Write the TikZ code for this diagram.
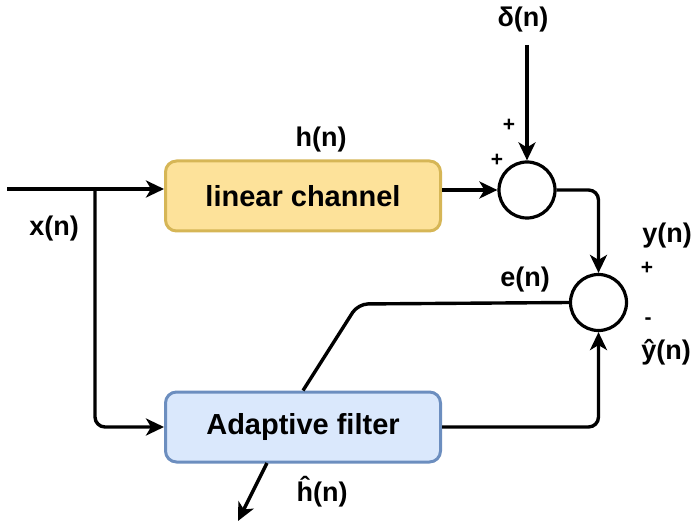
\documentclass[tikz,border=0pt]{standalone}
\usepackage{fontspec}
\setmainfont{Liberation Sans}
\usetikzlibrary{arrows.meta}
\definecolor{yfill}{HTML}{FDE29A}
\definecolor{ydraw}{HTML}{D6B656}
\definecolor{bfill}{HTML}{DAE8FC}
\definecolor{bdraw}{HTML}{6C8EBF}
\begin{document}
\begin{tikzpicture}[x=1pt,y=-1pt,
  wire/.style={line width=3.4pt, rounded corners=10pt},
  arr/.style={wire,-{Stealth[length=18pt,width=17pt,inset=5pt]}},
  box/.style={rounded corners=11pt, line width=3pt, minimum width=275pt, minimum height=70pt, font=\fontsize{29}{34}\selectfont\bfseries},
  sumc/.style={circle, draw, line width=3.2pt, minimum size=56pt, inner sep=0pt},
  lbl/.style={font=\fontsize{27}{32}\selectfont\bfseries, inner sep=0pt},
  sgn/.style={font=\fontsize{21}{24}\selectfont\bfseries, inner sep=0pt}]
\useasboundingbox (0,0) rectangle (693,521);
\node[box, fill=yfill, draw=ydraw] (lc) at (303,196) {linear channel};
\node[box, fill=bfill, draw=bdraw] (af) at (303,427) {Adaptive filter};
\node[sumc] (s1) at (527,190) {};
\node[sumc] (s2) at (598.5,302.5) {};
\coordinate (in) at (7,189);
\coordinate (br) at (95,189);
\coordinate (d) at (527,45);
\coordinate (ek) at (358,304);
\coordinate (hs) at (267,463);
\coordinate (he) at (238,521);
\draw[arr] (in) -- (lc.west |- in);
\draw[arr] (br) |- (af.west);
\draw[arr] (lc.east |- s1) -- (s1.west);
\draw[arr] (d) -- (s1.north);
\draw[arr] (s1.east) -| (s2.north);
\draw[arr] (af.east) -| (s2.south);
\draw[wire] (s2.west) -- (ek) -- (af.north);
\draw[arr] (hs) -- (he);
\node[lbl] (xn) at (54,229) {x(n)};
\node[lbl] (hn) at (321,140) {h(n)};
\node[lbl] (dn) at (523,20) {δ(n)};
\node[sgn] (p1) at (509,125) {+};
\node[sgn] (p2) at (497,160) {+};
\node[lbl] (yn) at (667,236) {y(n)};
\node[sgn] (p3) at (647,268) {+};
\node[lbl] (en) at (525,280) {e(n)};
\node[sgn] (mn) at (648,321) {-};
\node[lbl] (yh) at (666,352) {ŷ(n)};
\node[lbl] (hh) at (322,492) {ĥ(n)};
\end{tikzpicture}
\end{document}
